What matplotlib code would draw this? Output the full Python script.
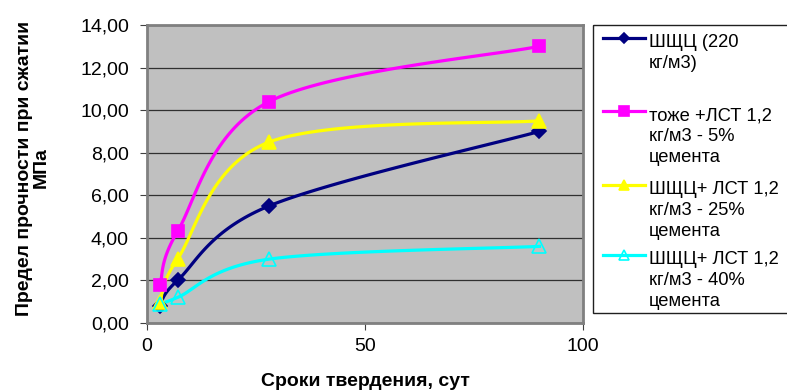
import numpy as np
import matplotlib.pyplot as plt
from matplotlib.patches import Rectangle
from matplotlib.ticker import FuncFormatter

plt.rcParams['font.family'] = ['Liberation Sans', 'DejaVu Sans']

# curing time, days
days = [3, 7, 28, 90]

# compressive strength, MPa
shcc = [0.8, 2.0, 5.5, 9.0]
lst_5 = [1.8, 4.3, 10.4, 13.0]
lst_25 = [1.0, 3.0, 8.5, 9.5]
lst_40 = [0.9, 1.2, 3.0, 3.6]

labels = [
    ["ШЩЦ (220", "кг/м3)"],
    ["тоже +ЛСТ 1,2", "кг/м3 - 5%", "цемента"],
    ["ШЩЦ+ ЛСТ 1,2", "кг/м3 - 25%", "цемента"],
    ["ШЩЦ+ ЛСТ 1,2", "кг/м3 - 40%", "цемента"],
]

styles = [
    dict(color='#000080', marker='D', ms=7, mfc='#000080', mec='#000080'),
    dict(color='#FF00FF', marker='s', ms=9, mfc='#FF00FF', mec='#FF00FF'),
    dict(color='#FFFF00', marker='^', ms=10, mfc='#FFFF00', mec='#FFFF00'),
    dict(color='#00FFFF', marker='^', ms=10, mfc='none', mec='#00FFFF'),
]


def smooth(x, y, n=40):
    # Excel-like smoothed line: Catmull-Rom converted to cubic Bezier
    p = np.column_stack([x, y]).astype(float)
    p = np.vstack([p[0], p, p[-1]])
    out = []
    for i in range(1, len(p) - 2):
        p0, p1, p2, p3 = p[i - 1], p[i], p[i + 1], p[i + 2]
        c1 = p1 + (p2 - p0) / 6
        c2 = p2 - (p3 - p1) / 6
        t = np.linspace(0, 1, n)[:, None]
        seg = ((1 - t) ** 3 * p1 + 3 * (1 - t) ** 2 * t * c1
               + 3 * (1 - t) * t ** 2 * c2 + t ** 3 * p2)
        out.append(seg)
    s = np.vstack(out)
    return s[:, 0], s[:, 1]


fig = plt.figure(figsize=(7.87, 3.92), dpi=100)
ax = fig.add_axes([147 / 787, 69 / 392, 436 / 787, 298 / 392])
ax.set_facecolor('#C0C0C0')

for ys, st in zip([shcc, lst_5, lst_25, lst_40], styles):
    sx, sy = smooth(days, ys)
    ax.plot(sx, sy, color=st['color'], lw=2.3, zorder=3)
    ax.plot(days, ys, ls='none', marker=st['marker'], ms=st['ms'],
            mfc=st['mfc'], mec=st['mec'], mew=1.2, zorder=4)

ax.set_xlim(0, 100)
ax.set_ylim(0, 14)
ax.set_xticks([0, 50, 100])
ax.set_yticks(np.arange(0, 14.1, 2))
ax.yaxis.set_major_formatter(FuncFormatter(lambda v, p: f"{v:.2f}".replace('.', ',')))
ax.grid(axis='y', color='#303030', lw=0.9)
ax.set_axisbelow(True)
for s in ax.spines.values():
    s.set_color('#808080')
    s.set_linewidth(2)
ax.tick_params(direction='out', length=5, width=0.8, color='#404040',
               labelsize=14)
ax.tick_params(axis='y', pad=8)
ax.tick_params(axis='x', pad=6)

fig.text(365 / 787, 1 - 382 / 392, "Сроки твердения, сут", fontsize=14,
         fontweight='bold', ha='center', va='center')
fig.text(33 / 787, 1 - 168 / 392, "Предел прочности при сжатии\nМПа",
         fontsize=14, fontweight='bold', rotation=90, ha='center',
         va='center', linespacing=1.0, multialignment='center')

# legend drawn in pixel coordinates
lg = fig.add_axes([0, 0, 1, 1], zorder=5)
lg.set_xlim(0, 787)
lg.set_ylim(392, 0)
lg.axis('off')
lg.add_patch(Rectangle((593, 25), 300, 288, fill=False, ec='#202020', lw=1))
rows = [38, 111, 185, 255]
for y0, st, lab in zip(rows, styles, labels):
    lg.plot([603, 645], [y0, y0], color=st['color'], lw=2.3)
    lg.plot([624], [y0], ls='none', marker=st['marker'], ms=st['ms'] * 0.75,
            mfc=st['mfc'], mec=st['mec'], mew=1.2)
    for k, line in enumerate(lab):
        lg.text(649, y0 + 9 + 21 * k, line, fontsize=13.2, va='baseline',
                ha='left')

fig.savefig('out.png', dpi=100)
